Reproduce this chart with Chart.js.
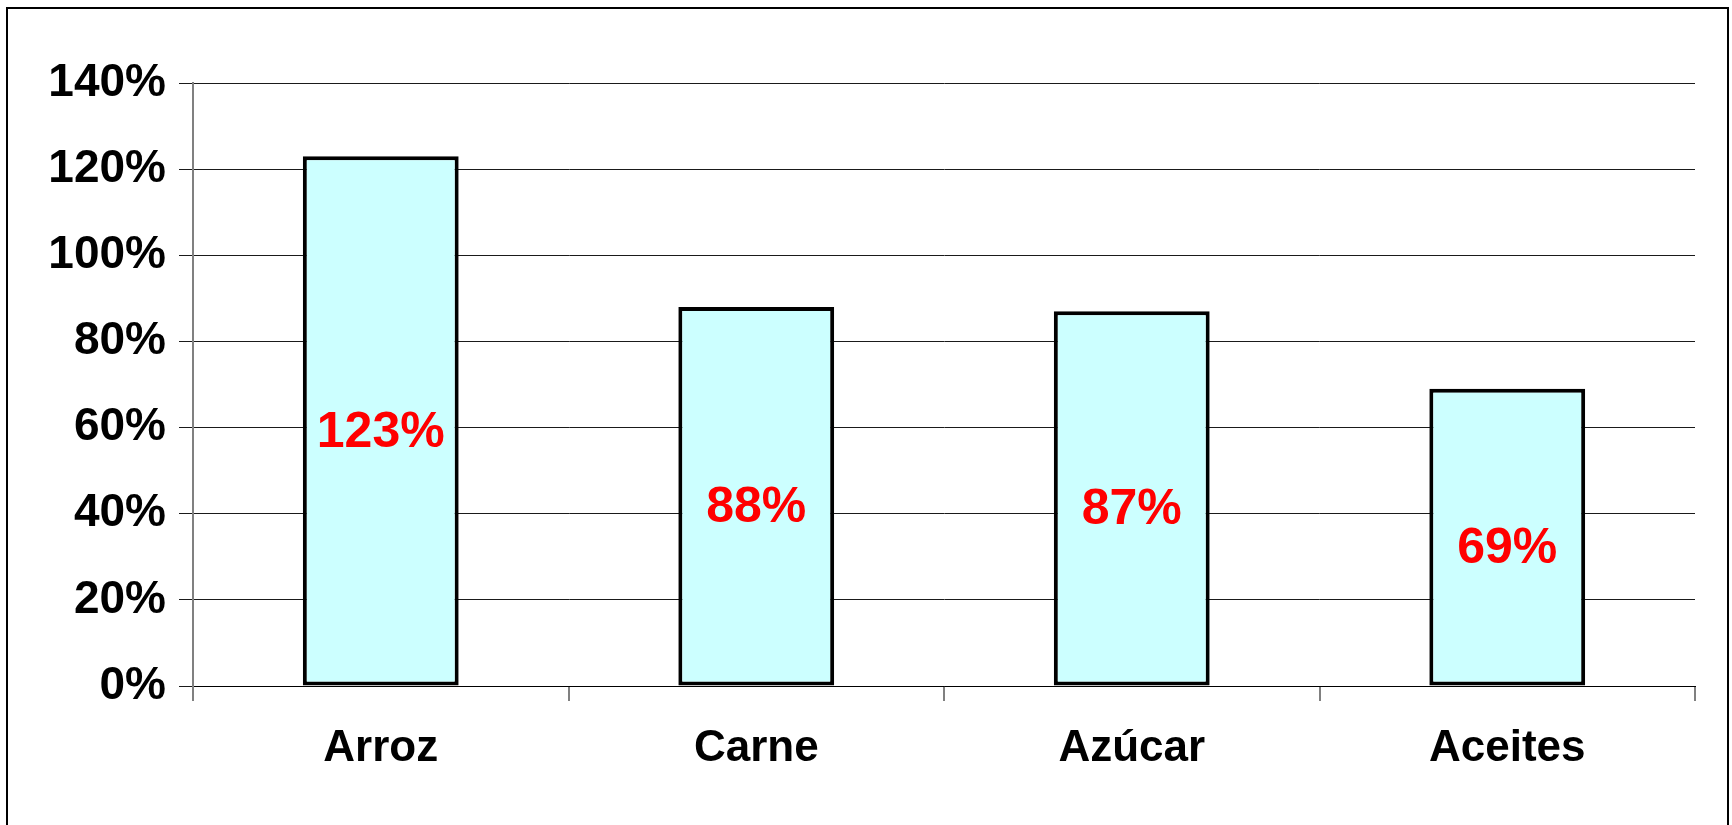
<!DOCTYPE html>
<html>
<head>
<meta charset="utf-8">
<title>Chart</title>
<script src="https://cdn.jsdelivr.net/npm/chart.js@4.4.1/dist/chart.umd.min.js"></script>
<style>
  html, body { margin: 0; padding: 0; background: #fff; overflow: hidden; }
  .frame { position: absolute; left: 6px; top: 7px; width: 1723px; height: 900px; border: 2px solid #000; box-sizing: border-box; }
  .wrap { position: absolute; left: 0; top: 0; width: 1732px; height: 825px; }
</style>
</head>
<body>
<div class="frame"></div>
<div class="wrap"><canvas id="barChart" width="1732" height="825"></canvas></div>
<script>
const categories = ['Arroz', 'Carne', 'Azúcar', 'Aceites'];
const values = [123, 88, 87, 69];
const yTicks = [0, 20, 40, 60, 80, 100, 120, 140];

const fontFamily = '"Liberation Sans", Arial, sans-serif';

// draws the red % label inside each bar
const barLabels = {
  id: 'barLabels',
  afterDatasetsDraw(chart) {
    const ctx = chart.ctx;
    const meta = chart.getDatasetMeta(0);
    ctx.save();
    ctx.font = 'bold 50px ' + fontFamily;
    ctx.fillStyle = '#FF0000';
    ctx.textAlign = 'center';
    ctx.textBaseline = 'middle';
    meta.data.forEach((bar, i) => {
      const y = (bar.y + bar.base) / 2 + 12;
      ctx.fillText(values[i] + '%', bar.x, y);
    });
    ctx.restore();
  }
};

document.addEventListener('DOMContentLoaded', function() {
  const ctx = document.getElementById('barChart').getContext('2d');
  const barChart = new Chart(ctx, {
    type: 'bar',
    data: {
      labels: categories,
      datasets: [{
        data: values,
        backgroundColor: '#CCFFFF',
        borderColor: '#000000',
        borderWidth: 4,
        borderSkipped: false,
        categoryPercentage: 1,
        barPercentage: 0.415
      }]
    },
    options: {
      responsive: false,
      animation: false,
      devicePixelRatio: 1,
      layout: {
        padding: { top: 83, right: 37, bottom: 0, left: 0 }
      },
      scales: {
        x: {
          offset: true,
          grid: {
            offset: true,
            drawOnChartArea: false,
            tickLength: 15,
            color: '#808080',
            lineWidth: 2
          },
          border: { display: true, color: '#000', width: 1 },
          ticks: {
            color: '#000',
            padding: 21,
            font: { family: fontFamily, size: 44, weight: 'bold' }
          },
          afterFit: function(scale) { scale.height = 139; }
        },
        y: {
          min: 0,
          max: 140,
          afterBuildTicks: function(scale) {
            scale.ticks = yTicks.map(v => ({ value: v }));
          },
          grid: {
            color: '#1a1a1a',
            lineWidth: 1,
            tickLength: 14
          },
          border: { color: '#808080', width: 2 },
          ticks: {
            color: '#000',
            padding: 13,
            font: { family: fontFamily, size: 46, weight: 'bold' },
            callback: function(v) { return v + '%'; }
          },
          afterFit: function(scale) { scale.width = 193; }
        }
      },
      plugins: {
        legend: { display: false },
        title: { display: false },
        tooltip: { enabled: false }
      }
    },
    plugins: [barLabels]
  });
});
</script>
</body>
</html>
